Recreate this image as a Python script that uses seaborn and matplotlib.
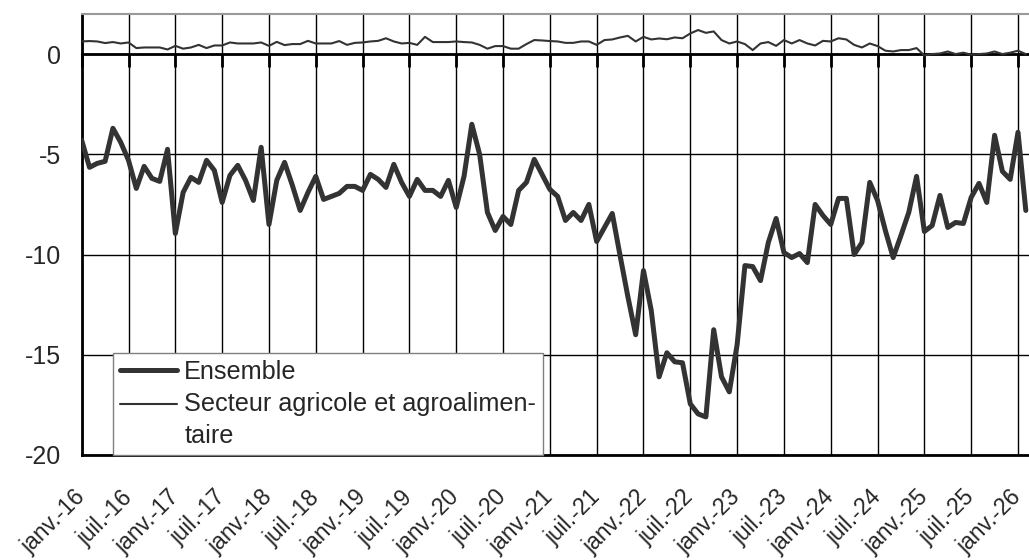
import seaborn as sns
import matplotlib.pyplot as plt
import pandas as pd
import numpy as np
from matplotlib.legend_handler import HandlerLine2D

# Monthly values, janv. 2016 -> fevr. 2026
ensemble = [
    -4.3, -5.65, -5.45, -5.35, -3.7, -4.4, -5.3, -6.7, -5.6, -6.2, -6.35, -4.75,
    -8.95, -6.9, -6.15, -6.4, -5.3, -5.8, -7.4, -6.05, -5.55, -6.3, -7.3, -4.65,
    -8.5, -6.3, -5.4, -6.55, -7.8, -6.9, -6.1, -7.25, -7.1, -6.95, -6.6, -6.6,
    -6.8, -6.0, -6.25, -6.65, -5.5, -6.4, -7.1, -6.25, -6.8, -6.8, -7.1, -6.3,
    -7.65, -6.1, -3.5, -5.0, -7.9, -8.8, -8.1, -8.5, -6.8, -6.4, -5.25, -6.0,
    -6.75, -7.1, -8.3, -7.9, -8.3, -7.5, -9.35, -8.65, -7.95, -10.05, -12.1, -14.0,
    -10.8, -12.8, -16.1, -14.9, -15.35, -15.4, -17.45, -17.95, -18.1, -13.75, -16.1, -16.85,
    -14.5, -10.55, -10.6, -11.3, -9.4, -8.2, -9.9, -10.15, -9.95, -10.4, -7.5, -8.05,
    -8.5, -7.2, -7.2, -10.0, -9.4, -6.4, -7.3, -8.8, -10.15, -9.05, -7.9, -6.1,
    -8.85, -8.55, -7.05, -8.65, -8.4, -8.45, -7.15, -6.45, -7.4, -4.05, -5.85, -6.25,
    -3.9, -7.8,
]
agricole = [
    0.63, 0.65, 0.63, 0.55, 0.6, 0.53, 0.58, 0.3, 0.33, 0.33, 0.33, 0.23,
    0.41, 0.27, 0.33, 0.46, 0.3, 0.43, 0.43, 0.58, 0.53, 0.53, 0.53, 0.58,
    0.41, 0.61, 0.45, 0.5, 0.5, 0.66, 0.53, 0.53, 0.53, 0.65, 0.46, 0.56,
    0.58, 0.63, 0.66, 0.79, 0.63, 0.53, 0.56, 0.46, 0.86, 0.6, 0.6, 0.6,
    0.63, 0.6, 0.58, 0.46, 0.27, 0.4, 0.4, 0.27, 0.27, 0.5, 0.7, 0.68,
    0.65, 0.63, 0.56, 0.56, 0.63, 0.63, 0.46, 0.7, 0.73, 0.83, 0.91, 0.63,
    0.86, 0.73, 0.78, 0.74, 0.83, 0.79, 1.03, 1.2, 1.06, 1.13, 0.7, 0.53,
    0.63, 0.5, 0.2, 0.53, 0.6, 0.41, 0.7, 0.53, 0.7, 0.53, 0.43, 0.66,
    0.63, 0.79, 0.73, 0.46, 0.33, 0.53, 0.4, 0.17, 0.13, 0.2, 0.2, 0.3,
    -0.07, 0.0, 0.03, 0.13, 0.0, 0.07, -0.03, 0.0, 0.03, 0.13, 0.0, 0.07,
    0.17, 0.0,
]
tick_labels = [
    "janv.-16", "juil.-16", "janv.-17", "juil.-17", "janv.-18", "juil.-18",
    "janv.-19", "juil.-19", "janv.-20", "juil.-20", "janv.-21", "juil.-21",
    "janv.-22", "juil.-22", "janv.-23", "juil.-23", "janv.-24", "juil.-24",
    "janv.-25", "juil.-25", "janv.-26",
]
y_ticks = [-20, -15, -10, -5, 0]
label_agri = "Secteur agricole et agroalimen-\ntaire"

df = pd.DataFrame({
    "mois": np.arange(len(ensemble)),
    "Ensemble": ensemble,
    label_agri: agricole,
})

sns.set_style("white")
plt.rcParams["font.family"] = ["Liberation Sans", "DejaVu Sans"]
plt.rcParams["axes.unicode_minus"] = False

line_color = "#333333"


class FirstLineHandler(HandlerLine2D):
    # put the legend line next to the first line of a two-line label
    def __init__(self, shift, **kw):
        super().__init__(**kw)
        self.shift = shift

    def create_artists(self, legend, orig_handle, xdescent, ydescent,
                       width, height, fontsize, trans):
        artists = super().create_artists(legend, orig_handle, xdescent, ydescent,
                                         width, height, fontsize, trans)
        for a in artists:
            a.set_ydata(np.asarray(a.get_ydata()) + self.shift)
        return artists


fig = plt.figure(figsize=(10.29, 5.6), dpi=100)
ax = fig.add_axes([0.0794, 0.1875, 0.9206, 0.7875])

sns.lineplot(data=df, x="mois", y="Ensemble", ax=ax, color=line_color,
             linewidth=3.6, label="Ensemble", zorder=4)
sns.lineplot(data=df, x="mois", y=label_agri, ax=ax,
             color=line_color, linewidth=1.5, label=label_agri, zorder=4)

ax.set_xlim(0, len(ensemble) - 1 + 0.41)
ax.set_ylim(-20, 2)
ax.set_xticks(np.arange(0, len(ensemble), 6))
ax.set_xticklabels(tick_labels, rotation=45, ha="right", va="center",
                   rotation_mode="anchor", fontsize=16.5)
ax.set_yticks(y_ticks)
ax.set_yticklabels([str(v) for v in y_ticks], fontsize=18)
ax.tick_params(axis="y", length=0, pad=15)
ax.tick_params(axis="x", length=0, pad=28)
ax.set_xlabel("")
ax.set_ylabel("")

ax.grid(True, color="black", linewidth=1)
ax.set_axisbelow(True)

for side in ["left", "bottom"]:
    ax.spines[side].set_color("black")
    ax.spines[side].set_linewidth(2)
ax.spines["top"].set_color("#999999")
ax.spines["top"].set_linewidth(1.5)
ax.spines["right"].set_visible(False)

# category axis crossing at zero, with its tick marks hanging below
zero_axis = ax.secondary_xaxis(20 / 22)
zero_axis.set_xticks(np.arange(0, len(ensemble), 6))
zero_axis.set_xticklabels([])
zero_axis.tick_params(direction="in", length=9, width=2, color="black")
zero_axis.spines["top"].set_color("black")
zero_axis.spines["top"].set_linewidth(2)

handles, labels = ax.get_legend_handles_labels()
leg = ax.legend(handles, labels, loc="lower left", bbox_to_anchor=(0.0327, 0),
                borderaxespad=0, fontsize=18.2, frameon=True, fancybox=False,
                framealpha=1, edgecolor="#808080", handlelength=2.25,
                handletextpad=0.3, labelspacing=0.32, borderpad=0.28,
                handler_map={handles[1]: FirstLineHandler(shift=12)})
leg.get_frame().set_linewidth(1)
for t in leg.get_texts():
    t.set_linespacing(1.4)
leg.set_zorder(5)

plt.savefig("out.png", dpi=100)
plt.close()
